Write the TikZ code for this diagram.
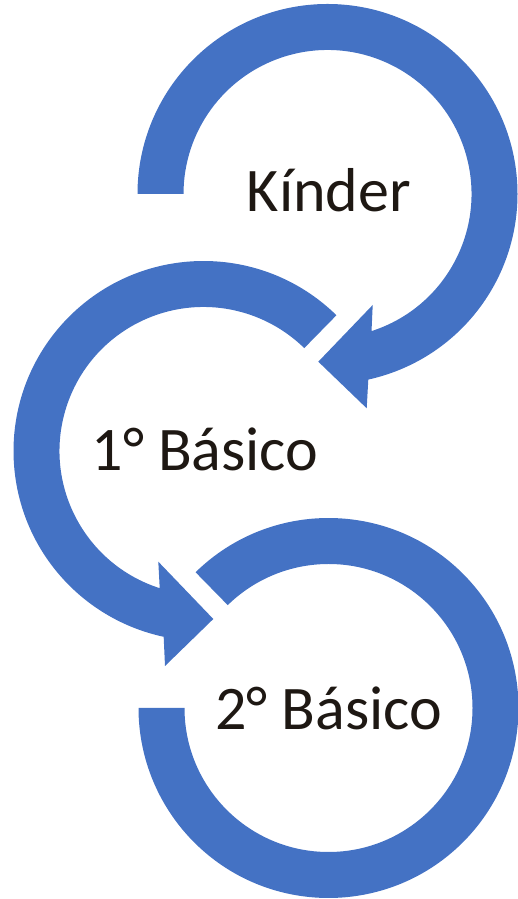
\documentclass[tikz,border=0pt]{standalone}
\usepackage{fontspec}
\setmainfont{Carlito}
\definecolor{arrowblue}{HTML}{4472C4}
\definecolor{txtdark}{HTML}{1E1813}
\begin{document}
\begin{tikzpicture}[x=1pt,y=1pt,
  ring/.style={fill=arrowblue},
  lbl/.style={font=\fontsize{62}{74}\selectfont, text=txtdark, anchor=base, inner sep=0pt}]
\useasboundingbox (0,0) rectangle (517,899);
% centres
\coordinate (c1) at (327.5,705);
\coordinate (c2) at (203.5,448);
\coordinate (c3) at (328.5,191);
% arrowhead points
\coordinate (b1o) at (366.7,490.7);
\coordinate (t1)  at (318.3,537.3);
\coordinate (b1i) at (372.7,594);
\coordinate (b2o) at (165,233);
\coordinate (t2)  at (213.3,280);
\coordinate (b2i) at (158.3,337.3);
% arrow 1 (Kinder)
\fill[ring] ([shift={(180:190)}]c1) arc[start angle=180,end angle=-77.6,radius=190]
  -- (b1o) -- (t1) -- (b1i) -- ([shift={(-72.2:144)}]c1)
  arc[start angle=-72.2,end angle=180,radius=144] -- cycle;
% arrow 2 (1 Basico)
\fill[ring] ([shift={(45.6:190)}]c2) arc[start angle=45.6,end angle=257.9,radius=190]
  -- (b2o) -- (t2) -- (b2i) -- ([shift={(252.3:144)}]c2)
  arc[start angle=252.3,end angle=45.6,radius=144] -- cycle;
% arc 3 (2 Basico)
\fill[ring] ([shift={(134.4:190)}]c3) arc[start angle=134.4,end angle=-180,radius=190]
  -- ([shift={(-180:144)}]c3)
  arc[start angle=-180,end angle=134.4,radius=144] -- cycle;
% labels
\node[lbl] (kinder) at (329,687) {Kínder};
\node[lbl] (basico1) at (205,428) {1° Básico};
\node[lbl] (basico2) at (328.5,169) {2° Básico};
\end{tikzpicture}
\end{document}
